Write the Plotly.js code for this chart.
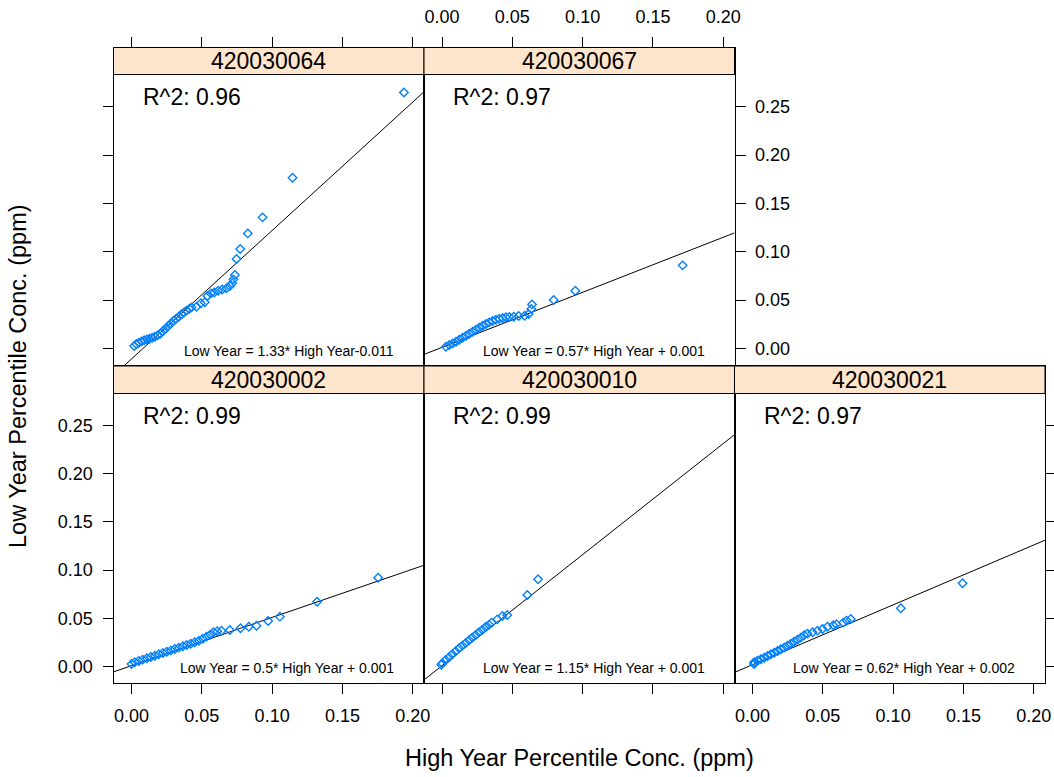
<!DOCTYPE html>
<html><head><meta charset="utf-8">
<script src="https://cdn.plot.ly/plotly-3.0.1.min.js"></script>
<style>html,body{margin:0;padding:0;background:#fff}</style>
</head><body><div id="chart" style="width:1054px;height:777px"></div>
<script>
// ---------------- data ----------------
const sites = ['420030064', '420030067', '420030002', '420030010', '420030021'];
const r2Values = ['0.96', '0.97', '0.99', '0.99', '0.97'];
const slopes = [1.33, 0.57, 0.5, 1.15, 0.62];
const intercepts = [-0.011, 0.001, 0.001, 0.001, 0.002];
const eqLabels = [
  'Low Year = 1.33* High Year-0.011',
  'Low Year = 0.57* High Year + 0.001',
  'Low Year = 0.5* High Year + 0.001',
  'Low Year = 1.15* High Year + 0.001',
  'Low Year = 0.62* High Year + 0.002'
];

const high064 = [0.0019,0.0035,0.0052,0.0071,0.0090,0.0109,0.0128,0.0147,0.0166,0.0185,0.0204,0.0223,0.0242,0.0261,0.0280,0.0299,0.0317,0.0336,0.0355,0.0374,0.0393,0.0412,0.0427,
  0.0462,0.0493,0.0521,0.0540,0.0564,0.0588,0.0616,0.0645,0.0675,0.0699,0.0716,0.0725,0.0735,0.0747,0.0773,0.0827,0.0932,0.1145,0.1937];
const low064 = [0.0024,0.0045,0.0058,0.0072,0.0083,0.0093,0.0100,0.0110,0.0120,0.0134,0.0151,0.0176,0.0203,0.0231,0.0258,0.0286,0.0307,0.0327,0.0352,0.0372,0.0393,0.0410,0.0424,
  0.0431,0.0466,0.0476,0.0541,0.0569,0.0579,0.0597,0.0610,0.0621,0.0645,0.0673,0.0714,0.0759,0.0924,0.1028,0.1190,0.1356,0.1766,0.2650];

const high067 = [0.0028,0.0052,0.0076,0.0100,0.0123,0.0147,0.0171,0.0194,0.0218,0.0242,0.0265,0.0289,0.0313,0.0336,0.0360,0.0384,0.0408,0.0431,0.0455,0.0479,0.0510,0.0545,
  0.0588,0.0616,0.0635,0.0640,0.0794,0.0948,0.1711];
const low067 = [0.0017,0.0034,0.0051,0.0069,0.0089,0.0110,0.0131,0.0151,0.0172,0.0193,0.0214,0.0234,0.0252,0.0269,0.0283,0.0296,0.0307,0.0314,0.0321,0.0324,0.0327,0.0334,
  0.0338,0.0355,0.0407,0.0455,0.0500,0.0596,0.0859];

const high002 = [0.0000,0.0023,0.0052,0.0080,0.0109,0.0137,0.0166,0.0194,0.0223,0.0251,0.0280,0.0308,0.0336,0.0365,0.0393,0.0422,0.0450,0.0479,0.0507,0.0533,0.0559,0.0583,
  0.0610,0.0640,0.0699,0.0775,0.0834,0.0889,0.0972,0.1055,0.1320,0.1754];
const low002 = [0.0028,0.0045,0.0059,0.0073,0.0087,0.0100,0.0114,0.0128,0.0142,0.0155,0.0169,0.0183,0.0197,0.0211,0.0225,0.0238,0.0252,0.0269,0.0290,0.0311,0.0331,0.0356,
  0.0366,0.0373,0.0380,0.0397,0.0414,0.0424,0.0473,0.0518,0.0673,0.0921];

const high010 = [-0.0005,0.0002,0.0026,0.0050,0.0073,0.0097,0.0121,0.0144,0.0168,0.0192,0.0215,0.0239,0.0263,0.0287,0.0310,0.0334,0.0353,
  0.0393,0.0429,0.0464,0.0607,0.0683];
const low010 = [0.0020,0.0035,0.0069,0.0097,0.0128,0.0159,0.0190,0.0218,0.0245,0.0273,0.0301,0.0328,0.0356,0.0383,0.0411,0.0435,0.0456,
  0.0490,0.0525,0.0535,0.0742,0.0905];

const high021 = [0.0011,0.0012,0.0035,0.0059,0.0083,0.0107,0.0130,0.0154,0.0178,0.0201,0.0225,0.0249,0.0273,0.0296,0.0320,0.0344,0.0367,0.0391,0.0427,0.0462,0.0498,
  0.0533,0.0574,0.0597,0.0645,0.0669,0.0699,0.1055,0.1494];
const low021 = [0.0028,0.0045,0.0062,0.0076,0.0093,0.0111,0.0128,0.0145,0.0163,0.0180,0.0197,0.0218,0.0238,0.0259,0.0280,0.0301,0.0325,0.0342,0.0356,0.0373,0.0390,
  0.0414,0.0428,0.0439,0.0456,0.0477,0.0494,0.0604,0.0863];

const highSeries = [high064, high067, high002, high010, high021];
const lowSeries = [low064, low067, low002, low010, low021];

const xTickVals = [0, 0.05, 0.10, 0.15, 0.20];
const xTickText = ['0.00', '0.05', '0.10', '0.15', '0.20'];
const yTickVals = [0, 0.05, 0.10, 0.15, 0.20, 0.25];
const yTickText = ['0.00', '0.05', '0.10', '0.15', '0.20', '0.25'];

const xTitle = 'High Year Percentile Conc. (ppm)';
const yTitle = 'Low Year Percentile Conc. (ppm)';

// ---------------- layout geometry (pixels) ----------------
const W = 1054, H = 777;
const colEdges = [[113.5, 424], [424, 734.5], [734.5, 1045]];
// [strip top, strip bottom (= panel top), panel bottom]
const rowEdges = [[47.5, 74.5, 366], [366, 393.5, 683]];
const xRange = [-0.0128, 0.2080];
const yRanges = [[-0.0183, 0.3115], [-0.0169, 0.3113]];

// panel placement and axis decorations (lattice alternating axes)
const panels = [
  {row: 0, col: 0, xSide: 'top',    xTicks: true,  xLabels: false, ySide: 'left',  yTicks: true,  yLabels: false},
  {row: 0, col: 1, xSide: 'top',    xTicks: true,  xLabels: true,  ySide: 'right', yTicks: true,  yLabels: true},
  {row: 1, col: 0, xSide: 'bottom', xTicks: true,  xLabels: true,  ySide: 'left',  yTicks: true,  yLabels: true},
  {row: 1, col: 1, xSide: 'bottom', xTicks: true,  xLabels: false, ySide: 'left',  yTicks: false, yLabels: false},
  {row: 1, col: 2, xSide: 'bottom', xTicks: true,  xLabels: true,  ySide: 'right', yTicks: true,  yLabels: false}
];

const FONT = 'Liberation Sans, Arial, Helvetica, sans-serif';
const px = v => v / W;
const py = v => 1 - v / H;

const traces = [];
const layout = {
  width: W, height: H, autosize: false,
  margin: {l: 0, r: 0, t: 0, b: 0},
  paper_bgcolor: '#ffffff', plot_bgcolor: '#ffffff',
  showlegend: false,
  font: {family: FONT, color: '#000000'},
  shapes: [], annotations: []
};

panels.forEach((p, i) => {
  const n = i + 1;
  const xa = 'xaxis' + (n === 1 ? '' : n);
  const ya = 'yaxis' + (n === 1 ? '' : n);
  const xr = 'x' + (n === 1 ? '' : n);
  const yr = 'y' + (n === 1 ? '' : n);
  const [c0, c1] = colEdges[p.col];
  const [s0, s1, b] = rowEdges[p.row];

  layout[xa] = {
    domain: [px(c0), px(c1)], range: xRange, anchor: yr, side: p.xSide,
    tickmode: 'array', tickvals: xTickVals, ticktext: xTickText,
    ticks: p.xTicks ? 'outside' : '', ticklen: 10, tickwidth: 1, tickcolor: '#000',
    showticklabels: p.xLabels, ticklabelstandoff: 6,
    tickfont: {family: FONT, size: 18, color: '#000'},
    showline: true, mirror: true, linecolor: '#000', linewidth: 1,
    showgrid: false, zeroline: false, fixedrange: true
  };
  layout[ya] = {
    domain: [py(b), py(s0)], range: yRanges[p.row], anchor: xr, side: p.ySide,
    tickmode: 'array', tickvals: yTickVals, ticktext: yTickText,
    ticks: p.yTicks ? 'outside' : '', ticklen: 10, tickwidth: 1, tickcolor: '#000',
    showticklabels: p.yLabels, ticklabelstandoff: 6,
    tickfont: {family: FONT, size: 18, color: '#000'},
    showline: true, mirror: true, linecolor: '#000', linewidth: 1,
    showgrid: false, zeroline: false, fixedrange: true
  };

  // regression line across the panel
  traces.push({
    type: 'scatter', mode: 'lines', xaxis: xr, yaxis: yr,
    x: xRange.slice(), y: xRange.map(v => slopes[i] * v + intercepts[i]),
    line: {color: '#000000', width: 1}, hoverinfo: 'skip'
  });
  // data points
  traces.push({
    type: 'scatter', mode: 'markers', xaxis: xr, yaxis: yr,
    x: highSeries[i], y: lowSeries[i],
    marker: {symbol: 'diamond-open', size: 6.5, color: '#0080ff', line: {width: 1.4, color: '#0080ff'}}
  });

  // strip
  layout.shapes.push({
    type: 'rect', xref: 'paper', yref: 'paper', layer: 'above',
    x0: px(c0), x1: px(c1), y0: py(s1), y1: py(s0),
    fillcolor: '#FFE5CC', line: {color: '#000', width: 1}
  });
  layout.annotations.push({
    xref: 'paper', yref: 'paper', x: px((c0 + c1) / 2), y: py((s0 + s1) / 2),
    text: sites[i], showarrow: false, xanchor: 'center', yanchor: 'middle',
    font: {family: FONT, size: 23, color: '#000'}
  });
  // R^2 label
  layout.annotations.push({
    xref: 'paper', yref: 'paper', x: px(c0 + 27), y: py(s1 + 22),
    text: 'R^2: ' + r2Values[i], showarrow: false, xanchor: 'left', yanchor: 'middle',
    font: {family: FONT, size: 23, color: '#000'}
  });
  // equation
  layout.annotations.push({
    xref: 'paper', yref: 'paper', x: px(c1 - 28), y: py(b - 15),
    text: eqLabels[i], showarrow: false, xanchor: 'right', yanchor: 'middle',
    font: {family: FONT, size: 14, color: '#000'}
  });
});

// axis titles
layout.annotations.push({
  xref: 'paper', yref: 'paper', x: px((113.5 + 1045) / 2), y: py(758),
  text: xTitle, showarrow: false, xanchor: 'center', yanchor: 'middle',
  font: {family: FONT, size: 23.5, color: '#000'}
});
layout.annotations.push({
  xref: 'paper', yref: 'paper', x: px(18), y: py(376),
  text: yTitle, showarrow: false, xanchor: 'center', yanchor: 'middle', textangle: -90,
  font: {family: FONT, size: 23.5, color: '#000'}
});

Plotly.newPlot('chart', traces, layout, {displayModeBar: false, staticPlot: true});
</script>
</body></html>
